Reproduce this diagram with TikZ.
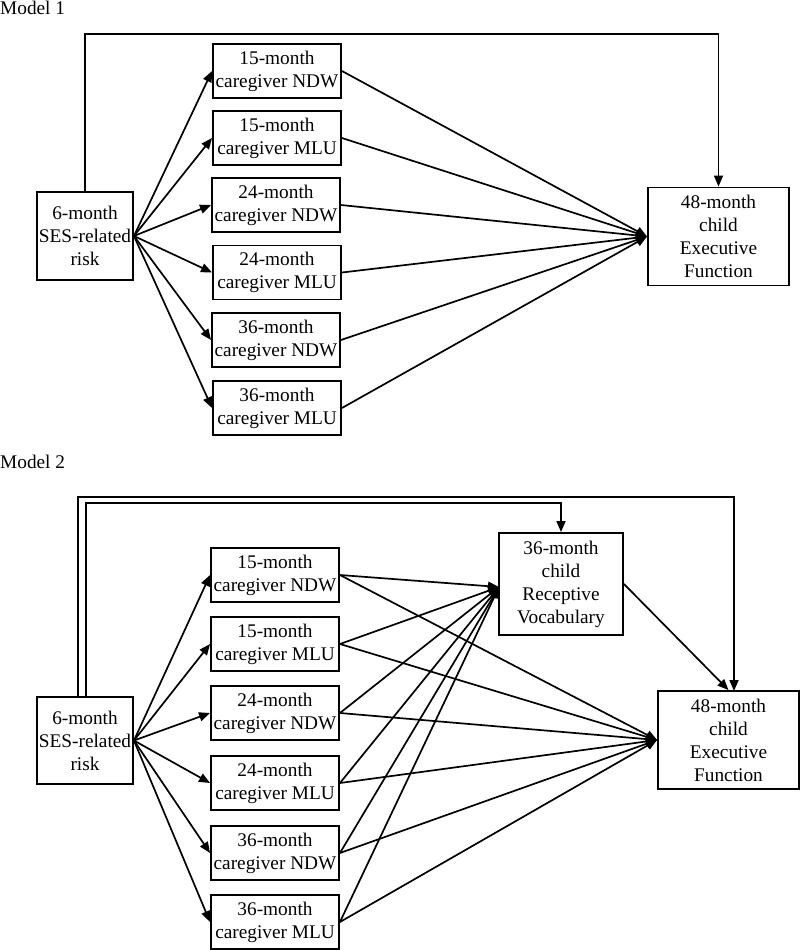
\documentclass[tikz,border=0pt]{standalone}
\usepackage{fontspec}
\setmainfont{Liberation Serif}
\usetikzlibrary{arrows.meta}
\begin{document}
\begin{tikzpicture}[x=1pt,y=-1pt,
  every node/.style={font=\fontsize{19.3}{23}\selectfont},
  box/.style={draw, line width=1.9pt, rectangle, inner sep=0pt, align=center},
  cg/.style={box, minimum width=128pt, minimum height=54pt},
  big/.style={box, minimum width=141pt, minimum height=98pt},
  arr/.style={line width=1.7pt, -{Triangle[length=11pt,width=9pt]}},
  ln/.style={line width=1.7pt}]
\useasboundingbox (0,0) rectangle (800,950);

% ---------- Model 1 ----------
\node[anchor=base west, inner sep=0pt] (m1) at (0,14.5) {Model 1};
\node[box, minimum width=96pt, minimum height=88pt] (ses1) at (85,236) {6-month\\SES-related\\risk};
\node[cg] (c11) at (277,71) {15-month\\caregiver NDW};
\node[cg] (c12) at (277,138) {15-month\\caregiver MLU};
\node[cg] (c13) at (276,205) {24-month\\caregiver NDW};
\node[cg] (c14) at (277,272.5) {24-month\\caregiver MLU};
\node[cg] (c15) at (276,340) {36-month\\caregiver NDW};
\node[cg] (c16) at (277,408) {36-month\\caregiver MLU};
\node[big] (ef1) at (718.5,236.5) {48-month\\child\\Executive\\Function};
\coordinate (t1) at (0,34);

\foreach \i in {1,...,6}{
  \draw[arr] (ses1.east) -- (c1\i.west);
  \draw[arr] (c1\i.east) -- (ef1.west);
}
\draw[arr] (ses1.north) -- (ses1.north |- t1) -- (ef1.north |- t1) -- (ef1.north);

% ---------- Model 2 ----------
\node[anchor=base west, inner sep=0pt] (m2) at (0,468) {Model 2};
\node[box, minimum width=96pt, minimum height=87pt] (ses2) at (85,740.5) {6-month\\SES-related\\risk};
\node[cg] (c21) at (275,575) {15-month\\caregiver NDW};
\node[cg] (c22) at (275,644) {15-month\\caregiver MLU};
\node[cg] (c23) at (275,713) {24-month\\caregiver NDW};
\node[cg] (c24) at (275,783) {24-month\\caregiver MLU};
\node[cg] (c25) at (275,853) {36-month\\caregiver NDW};
\node[cg] (c26) at (275,922) {36-month\\caregiver MLU};
\node[box, minimum width=124pt, minimum height=102pt] (rv) at (561,584) {36-month\\child\\Receptive\\Vocabulary};
\node[big] (ef2) at (728.5,740) {48-month\\child\\Executive\\Function};

\coordinate (rvin) at (499,587);
\coordinate (outer) at (0,497);
\coordinate (inner) at (0,503);
\coordinate (o1) at (78,697);
\coordinate (i1) at (86,697);
\coordinate (o2) at (734,691);

\foreach \i in {1,...,6}{
  \draw[arr] (ses2.east) -- (c2\i.west);
  \draw[arr] (c2\i.east) -- (rvin);
  \draw[arr] (c2\i.east) -- (ef2.west);
}
\draw[arr] (rv.east) -- (ef2.north);
\draw[arr] (o1) -- (o1 |- outer) -- (o2 |- outer) -- (o2);
\draw[arr] (i1) -- (i1 |- inner) -- (rv.north |- inner) -- (rv.north);
\end{tikzpicture}
\end{document}
